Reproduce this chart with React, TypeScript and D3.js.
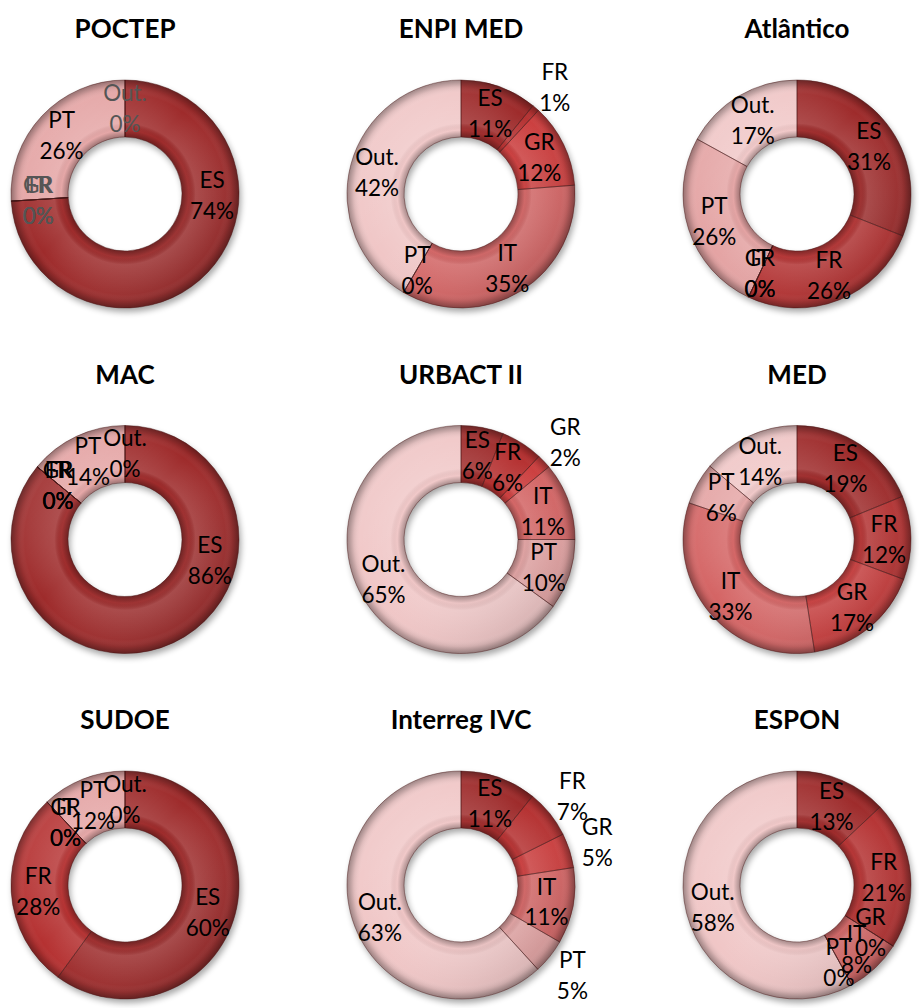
import React, {useEffect, useRef} from 'react';
import * as d3 from 'd3';

// countries, clockwise from 12 o'clock
const categories = ["ES", "FR", "GR", "IT", "PT", "Out."];

const programmes = [
    "POCTEP", "ENPI MED", "Atlântico",
    "MAC", "URBACT II", "MED",
    "SUDOE", "Interreg IVC", "ESPON"
];

// shares in % (ES, FR, GR, IT, PT, Out.)
const poctep = [74, 0, 0, 0, 26, 0];
const enpiMed = [11, 1, 12, 35, 0, 42];
const atlantico = [31, 26, 0, 0, 26, 17];
const mac = [86, 0, 0, 0, 14, 0];
const urbact = [6, 6, 2, 11, 10, 65];
const med = [19, 12, 17, 33, 6, 14];
const sudoe = [60, 28, 0, 0, 12, 0];
const interreg = [11, 7, 5, 11, 5, 63];
const espon = [13, 21, 0, 8, 0, 58];

const seriesValues = [poctep, enpiMed, atlantico, mac, urbact, med, sudoe, interreg, espon];

// labels that Excel pushed outside the ring
const outsideLabels: Record<string, string[]> = {
    "ENPI MED": ["FR"],
    "URBACT II": ["GR"],
    "Interreg IVC": ["FR", "GR", "PT"],
};
const greyZeroCharts = ["POCTEP"];

const colours = ["#9e2b2b", "#b53131", "#cb3d3d", "#d46464", "#e4a3a3", "#f0c6c6"];

export default function App() {
    const ref = useRef<SVGSVGElement>(null);

    useEffect(() => {
        const width = 919;
        const height = 1008;
        const outer = 114;
        const inner = 57;

        const svg = d3.select(ref.current);
        svg.selectAll('*').remove();
        svg.attr('width', width).attr('height', height);

        const defs = svg.append('defs');

        const shadow = defs.append('filter').attr('id', 'shadow')
            .attr('x', '-20%').attr('y', '-20%').attr('width', '140%').attr('height', '140%');
        shadow.append('feGaussianBlur').attr('stdDeviation', 3);

        const light = defs.append('linearGradient').attr('id', 'light')
            .attr('x1', 0).attr('y1', 0).attr('x2', 1).attr('y2', 1);
        light.append('stop').attr('offset', 0).attr('stop-color', '#fff').attr('stop-opacity', 0.18);
        light.append('stop').attr('offset', 0.45).attr('stop-color', '#fff').attr('stop-opacity', 0);
        light.append('stop').attr('offset', 1).attr('stop-color', '#000').attr('stop-opacity', 0.2);

        const bevel = defs.append('radialGradient').attr('id', 'bevel')
            .attr('gradientUnits', 'userSpaceOnUse')
            .attr('cx', 0).attr('cy', 0).attr('r', outer);
        [
            [0.5, '#000', 0.3], [0.56, '#000', 0], [0.62, '#fff', 0.12],
            [0.88, '#fff', 0], [0.94, '#000', 0.08], [1, '#000', 0.35]
        ].forEach(([o, c, op]) => {
            bevel.append('stop').attr('offset', o as number).attr('stop-color', c as string)
                .attr('stop-opacity', op as number);
        });

        const col = d3.scalePoint<number>().domain([0, 1, 2]).range([125, 797]);
        const row = d3.scalePoint<number>().domain([0, 1, 2]).range([194, 885]);

        const pie = d3.pie<number>().sort(null).value(d => d);
        const arc = d3.arc<d3.PieArcDatum<number>>().innerRadius(inner).outerRadius(outer);
        const ring = d3.arc()({innerRadius: inner, outerRadius: outer, startAngle: 0, endAngle: 2 * Math.PI} as any);
        const colour = d3.scaleOrdinal<string, string>().domain(categories).range(colours);

        programmes.forEach((name, i) => {
            const values = seriesValues[i];
            const total = d3.sum(values);
            const g = svg.append('g')
                .attr('transform', `translate(${col(i % 3)},${row(Math.floor(i / 3))})`);

            g.append('text')
                .attr('x', 0).attr('y', -156)
                .attr('text-anchor', 'middle')
                .style('font-family', 'Lato, "Open Sans", sans-serif')
                .style('font-weight', 'bold')
                .style('font-size', '26px')
                .text(name);

            g.append('path')
                .attr('d', ring)
                .attr('transform', 'translate(2,4)')
                .attr('fill', '#000')
                .attr('opacity', 0.35)
                .attr('filter', 'url(#shadow)');

            const arcs = pie(values);

            g.selectAll('path.slice').data(arcs).enter().append('path')
                .attr('class', 'slice')
                .attr('d', arc)
                .attr('fill', (d, j) => colour(categories[j]));

            g.append('path').attr('d', ring).attr('fill', 'url(#light)');

            g.selectAll('path.bevel').data(arcs).enter().append('path')
                .attr('class', 'bevel')
                .attr('d', arc)
                .attr('fill', 'url(#bevel)')
                .attr('stroke', 'rgba(70,20,20,0.55)')
                .attr('stroke-width', 0.8);

            const outside = outsideLabels[name] || [];
            arcs.forEach((d, j) => {
                const cat = categories[j];
                const share = d.value / total;
                let a = (d.startAngle + d.endAngle) / 2;
                if (share > 0.7) {
                    a = Math.PI / 2 + (share - 0.74) * 1.9;
                }
                const r = outside.includes(cat) ? 143 : 87;
                const x = Math.sin(a) * r;
                const y = -Math.cos(a) * r;
                const grey = d.value === 0 && greyZeroCharts.includes(name);
                const t = g.append('text')
                    .attr('text-anchor', 'middle')
                    .attr('dominant-baseline', 'central')
                    .style('font-family', 'Lato, "Open Sans", sans-serif')
                    .style('font-size', '22.5px')
                    .attr('fill', grey ? '#555' : '#000');
                t.append('tspan').attr('x', x).attr('y', y - 15.5).text(cat);
                t.append('tspan').attr('x', x).attr('y', y + 15.5).text(`${d.value}%`);
            });
        });
    }, []);

    return (
        <svg ref={ref} style={{position: 'absolute', left: 0, top: 0}}/>
    );
}
